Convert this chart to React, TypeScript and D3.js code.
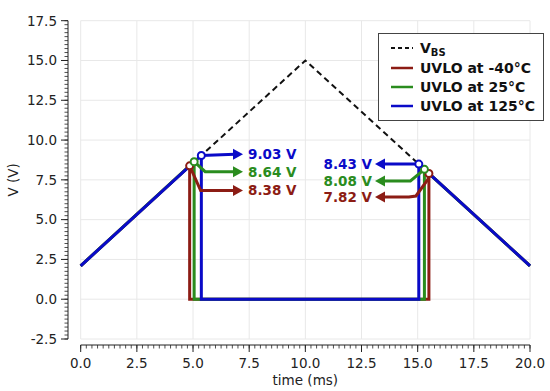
import React from "react";
import * as d3 from "d3";

// ---------- data ----------
const vbsTime = [0, 10, 20];
const vbsVolt = [2.1, 15.0, 2.1];

const seriesNames = ["UVLO at -40°C", "UVLO at 25°C", "UVLO at 125°C"];
const seriesColors = ["#8c1c14", "#2a8c1e", "#0a0ac8"];
// turn-off (rising VBS) and turn-on (falling VBS) points
const offTime = [4.85, 5.05, 5.37];
const offVolt = [8.38, 8.64, 9.03];
const onTime = [15.5, 15.3, 15.05];
const onVolt = [7.9, 8.16, 8.49];
const offLabels = ["8.38 V", "8.64 V", "9.03 V"];
const onLabels = ["7.82 V", "8.08 V", "8.43 V"];

const xTicks = [0, 2.5, 5, 7.5, 10, 12.5, 15, 17.5, 20];
const yTicks = [-2.5, 0, 2.5, 5, 7.5, 10, 12.5, 15, 17.5];

// ---------- layout ----------
const W = 550, H = 391;
const X0 = 80.7, X1 = 530, Y0 = 339, Y1 = 20.7;
const SPINE_X = 68, SPINE_Y = 345;
const FONT = "DejaVu Sans";

export default function App() {
  const x = d3.scaleLinear().domain([0, 20]).range([X0, X1]);
  const y = d3.scaleLinear().domain([-2.5, 17.5]).range([Y0, Y1]);
  const line = d3.line<[number, number]>().x(d => x(d[0])).y(d => y(d[1]));

  const vbsPts: [number, number][] = vbsTime.map((t, i) => [t, vbsVolt[i]]);
  const traces = seriesNames.map((_, i) => {
    const pts: [number, number][] = [
      [vbsTime[0], vbsVolt[0]],
      [offTime[i], offVolt[i]],
      [offTime[i], 0],
      [onTime[i], 0],
      [onTime[i], onVolt[i]],
      [vbsTime[2], vbsVolt[2]],
    ];
    return pts;
  });

  const minorX = d3.range(0, 20.0001, 0.25);
  const minorY = d3.range(-2.5, 17.5001, 0.25);
  const fmt = (v: number) => v.toFixed(1);

  // annotation arrow paths (pixel offsets relative to markers)
  const leftTipX = 243, leftTextX = 248;
  const rightTipX = 375, rightTextX = 372;
  // order: red, green, blue
  const leftLevels = [190.5, 171.7, 154.3];
  const rightLevels = [197, 181, 164];

  const arrowHead = (tipX: number, ty: number, dir: number) => {
    const L = 10, Hh = 5.5;
    return `M${tipX},${ty} L${tipX - dir * L},${ty - Hh} L${tipX - dir * L},${ty + Hh} Z`;
  };

  const leftPaths = seriesNames.map((_, i) => {
    const mx = x(offTime[i]), my = y(offVolt[i]);
    const ly = leftLevels[i];
    const tip = leftTipX - 8;
    if (i === 2) return `M${mx},${my} L${tip},${ly}`;
    return `M${mx},${my} L${mx + 11},${ly} L${tip},${ly}`;
  });
  const rightPaths = seriesNames.map((_, i) => {
    const mx = x(onTime[i]), my = y(onVolt[i]);
    const ly = rightLevels[i];
    const tip = rightTipX + 8;
    if (i === 2) return `M${mx},${my} L${tip},${ly}`;
    if (i === 1) return `M${mx},${my} L${mx - 14},${ly} L${tip},${ly}`;
    return `M${mx},${my} L${mx - 1},${my + 6} L${mx - 13},${ly - 1} L${mx - 20},${ly} L${tip},${ly}`;
  });

  const legendRows = [48, 68, 87, 106];

  return (
    <svg width={W} height={H} style={{ position: "absolute", left: 0, top: 0, background: "#fff" }}
      fontFamily={FONT}>
      <rect x={0} y={0} width={W} height={H} fill="#fff" />
      {/* grid */}
      {xTicks.map(t => (
        <line key={"gx" + t} x1={x(t)} x2={x(t)} y1={Y1} y2={Y0} stroke="#e8e8e8" strokeWidth={1} />
      ))}
      {yTicks.map(t => (
        <line key={"gy" + t} x1={X0} x2={X1} y1={y(t)} y2={y(t)} stroke="#e8e8e8" strokeWidth={1} />
      ))}

      {/* y axis */}
      <line x1={SPINE_X} x2={SPINE_X} y1={Y1} y2={Y0} stroke="#222" strokeWidth={1} />
      {minorY.map(t => (
        <line key={"my" + t} x1={SPINE_X - 3.5} x2={SPINE_X} y1={y(t)} y2={y(t)} stroke="#222" strokeWidth={0.8} />
      ))}
      {yTicks.map(t => (
        <g key={"ty" + t}>
          <line x1={SPINE_X - 7} x2={SPINE_X} y1={y(t)} y2={y(t)} stroke="#222" strokeWidth={1} />
          <text x={SPINE_X - 11} y={y(t)} dy="0.36em" textAnchor="end" fontSize={13.5} fill="#222">{fmt(t)}</text>
        </g>
      ))}
      <text transform={`translate(18,${(Y0 + Y1) / 2}) rotate(-90)`} textAnchor="middle" fontSize={13.5} fill="#222">V (V)</text>

      {/* x axis */}
      <line x1={X0} x2={X1} y1={SPINE_Y} y2={SPINE_Y} stroke="#222" strokeWidth={1} />
      {minorX.map(t => (
        <line key={"mx" + t} x1={x(t)} x2={x(t)} y1={SPINE_Y} y2={SPINE_Y + 3.5} stroke="#222" strokeWidth={0.8} />
      ))}
      {xTicks.map(t => (
        <g key={"tx" + t}>
          <line x1={x(t)} x2={x(t)} y1={SPINE_Y} y2={SPINE_Y + 7} stroke="#222" strokeWidth={1} />
          <text x={x(t)} y={368} textAnchor="middle" fontSize={13.5} fill="#222">{fmt(t)}</text>
        </g>
      ))}
      <text x={(X0 + X1) / 2} y={385} textAnchor="middle" fontSize={13.5} fill="#222">time (ms)</text>

      {/* VBS dashed */}
      <path d={line(vbsPts) || ""} fill="none" stroke="#111" strokeWidth={2} strokeDasharray="6,4" />

      {/* traces */}
      {traces.map((pts, i) => (
        <path key={"tr" + i} d={line(pts) || ""} fill="none" stroke={seriesColors[i]} strokeWidth={3}
          strokeLinejoin="miter" />
      ))}

      {/* annotations */}
      {seriesNames.map((_, i) => (
        <g key={"al" + i}>
          <path d={leftPaths[i]} fill="none" stroke={seriesColors[i]} strokeWidth={3} />
          <path d={arrowHead(leftTipX, leftLevels[i], 1)} fill={seriesColors[i]} />
          <text x={leftTextX} y={leftLevels[i]} dy="0.36em" fontSize={13.5} fontWeight="bold" fill={seriesColors[i]}>{offLabels[i]}</text>
          <path d={rightPaths[i]} fill="none" stroke={seriesColors[i]} strokeWidth={3} />
          <path d={arrowHead(rightTipX, rightLevels[i], -1)} fill={seriesColors[i]} />
          <text x={rightTextX} y={rightLevels[i]} dy="0.36em" textAnchor="end" fontSize={13.5} fontWeight="bold" fill={seriesColors[i]}>{onLabels[i]}</text>
        </g>
      ))}

      {/* markers */}
      {seriesNames.map((_, i) => (
        <g key={"mk" + i}>
          <circle cx={x(offTime[i])} cy={y(offVolt[i])} r={3.5} fill="#fff" stroke={seriesColors[i]} strokeWidth={2} />
          <circle cx={x(onTime[i])} cy={y(onVolt[i])} r={3.5} fill="#fff" stroke={seriesColors[i]} strokeWidth={2} />
        </g>
      ))}

      {/* legend */}
      <rect x={378.5} y={33.5} width={165} height={87} fill="#fff" stroke="#444" strokeWidth={1} />
      <line x1={391} x2={413} y1={legendRows[0]} y2={legendRows[0]} stroke="#111" strokeWidth={2} strokeDasharray="4,3" />
      <text x={420} y={legendRows[0]} dy="0.36em" fontSize={14} fontWeight="bold" fill="#111">
        V<tspan fontSize={10} dy={3}>BS</tspan>
      </text>
      {seriesNames.map((n, i) => (
        <g key={"lg" + i}>
          <line x1={391} x2={413} y1={legendRows[i + 1]} y2={legendRows[i + 1]} stroke={seriesColors[i]} strokeWidth={2.5} />
          <text x={420} y={legendRows[i + 1]} dy="0.36em" fontSize={14} fontWeight="bold" fill="#111">{n}</text>
        </g>
      ))}
    </svg>
  );
}
